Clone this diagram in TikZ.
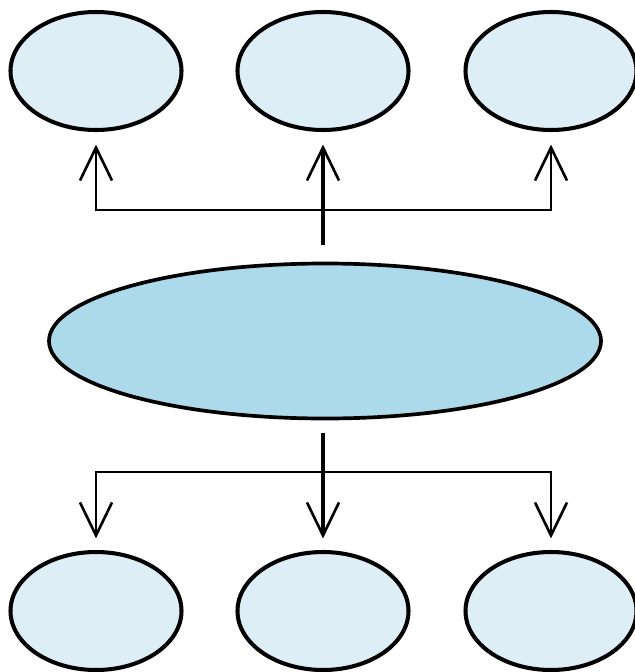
\documentclass[tikz,border=0pt]{standalone}
\usepackage{tikz}
\usetikzlibrary{shapes.geometric}
\usetikzlibrary{arrows.meta}

\definecolor{paleblue}{RGB}{221,238,247}
\definecolor{hubblue}{RGB}{173,218,234}

\begin{document}
\begin{tikzpicture}[x=0.2mm, y=-0.2mm,
  leaf/.style={ellipse, draw, line width=2.3pt, fill=paleblue, inner sep=0pt, minimum width=34.2mm, minimum height=23.6mm},
  hubnode/.style={ellipse, draw, line width=2.1pt, fill=hubblue, inner sep=0pt, minimum width=110.4mm, minimum height=31mm},
  link/.style={line width=1.5pt, -{Straight Barb[length=6.6mm, width=6.4mm, line width=1.5pt]}},
  mainlink/.style={link, line width=2pt}]
\useasboundingbox (0,0) rectangle (635,672);
% the six small ones and the big one
\node [leaf] (topL) at (96,71) {};
\node [leaf] (topM) at (323,71) {};
\node [leaf] (topR) at (551,71) {};
\node [hubnode] (hub) at (325,341) {};
\node [leaf] (botL) at (96,611) {};
\node [leaf] (botM) at (323,611) {};
\node [leaf] (botR) at (551,611) {};
% upward fork
\coordinate (upstub) at (323,245);
\coordinate (upbar) at (323,210);
\draw [mainlink, shorten >=2.5mm] (upstub) -- (topM);
\draw [link, shorten >=2.5mm] (upbar) -| (topL);
\draw [link, shorten >=2.5mm] (upbar) -| (topR);
% downward fork
\coordinate (downstub) at (323,433);
\coordinate (downbar) at (323,472);
\draw [mainlink, shorten >=2.3mm] (downstub) -- (botM);
\draw [link, shorten >=2.3mm] (downbar) -| (botL);
\draw [link, shorten >=2.3mm] (downbar) -| (botR);
\end{tikzpicture}
\end{document}
